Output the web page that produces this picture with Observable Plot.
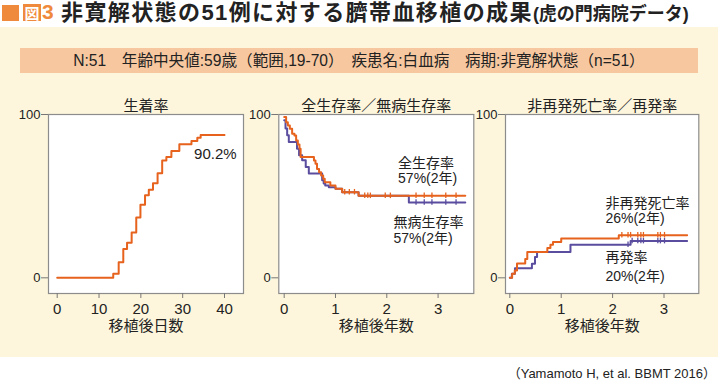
<!DOCTYPE html>
<html><head><meta charset="utf-8">
<script src="https://cdn.jsdelivr.net/npm/d3@7"></script>
<script src="https://cdn.jsdelivr.net/npm/@observablehq/plot@0.6"></script>
<style>
body{margin:0;background:#fff}
#root{position:relative;width:718px;height:384px;overflow:hidden;background:#fff;font-family:'Liberation Sans','Noto Sans CJK JP',sans-serif;color:#222}
.abs{position:absolute}
</style></head>
<body><div id="root">
<div class="abs" style="left:0;top:27px;width:718px;height:330px;background:#fdf6dc"></div>
<div class="abs" style="left:2px;top:5px;width:17px;height:16px;background:#ef8a3c"></div>
<div class="abs" style="left:23px;top:4px;width:18px;height:17px;background:#ef8a3c;color:#fff;font:bold 15px 'Noto Sans CJK JP';line-height:17px;text-align:center">図</div>
<div class="abs" style="left:42px;top:0;height:25px;line-height:25px;color:#ef8a3c;font:bold 21px 'Liberation Sans',sans-serif">3</div>
<div class="abs" style="left:61px;top:0;height:25px;line-height:25px;white-space:nowrap;font-weight:bold;font-size:22px;color:#222"><span id="t1" style="letter-spacing:1.4px">非寛解状態の51例に対する臍帯血移植の成果</span><span id="t2" style="font-size:18px;font-weight:bold">(虎の門病院データ)</span></div>
<div class="abs" id="info" style="left:20px;top:48px;width:678px;height:25px;line-height:25px;background:#f7c8a0;text-align:center;font-size:15.6px;white-space:nowrap">N:51　年齢中央値:59歳（範囲,19-70）　疾患名:白血病　病期:非寛解状態（n=51）</div>
<div id="p1" class="abs" style="left:0;top:88px"></div>
<div id="p2" class="abs" style="left:250px;top:88px"></div>
<div id="p3" class="abs" style="left:470px;top:88px"></div>
<div class="abs" style="right:2px;top:363px;font-size:13px;white-space:nowrap">（Yamamoto H, et al. BBMT 2016）</div>
</div>
<script>
// ---- data ----
const panelTitles = ["生着率", "全生存率／無病生存率", "非再発死亡率／再発率"];
const xLabels = ["移植後日数", "移植後年数", "移植後年数"];
const yTicks = [0, 100];
const xTicksDays = [0, 10, 20, 30, 40];
const xTicksYears = [0, 1, 2, 3];

// Panel 1: engraftment (days, %)
const engraftDays = [0, 13.4, 14.7, 15.8, 16.7, 17.8, 18.9, 19.9, 21.0, 21.9, 22.9, 24.0, 25.1, 26.1, 27.3, 29.2, 32.1, 33.5, 34.3, 40];
const engraftPct  = [0, 2.5, 9.6, 17.6, 21.5, 27.8, 37.0, 44.8, 50.5, 54.0, 57.9, 64.0, 71.8, 74.0, 77.7, 81.8, 83.8, 85.7, 87.5, 87.5];
const engraftLabel = ["90.2%"];

// Panel 2: overall survival / disease-free survival (years, %)
const osYears = [0, 0.038, 0.071, 0.11, 0.155, 0.2, 0.233, 0.266, 0.298, 0.32, 0.58, 0.61, 0.64, 0.68, 0.72, 0.76, 0.79, 0.9, 1.0, 1.13, 1.45, 3.53];
const osPct   = [98.4, 95.3, 93.3, 91.2, 88.2, 87.1, 84.1, 81.6, 79.0, 74.0, 71.8, 69.8, 66.7, 64.7, 62.6, 60.6, 58.5, 56.5, 54.5, 52.4, 50.2, 50.2];
const osCensor = [1.18, 1.27, 1.37, 1.57, 1.63, 1.68, 1.97, 2.07, 2.57, 2.73, 2.88, 3.15, 3.35];
const dfsYears = [0, 0.026, 0.058, 0.09, 0.25, 0.29, 0.35, 0.42, 0.48, 0.74, 0.77, 0.8, 0.87, 1.0, 1.13, 1.45, 2.43, 3.53];
const dfsPct   = [96.5, 91.4, 87.3, 83.2, 79.0, 75.1, 72.0, 67.9, 63.8, 59.7, 57.7, 56.6, 55.5, 54.5, 52.4, 50.2, 46.1, 46.1];
const dfsCensor = [2.57, 2.73, 2.88, 3.15, 3.35];
const osLabels = ["全生存率", "57%(2年)"];
const dfsLabels = ["無病生存率", "57%(2年)"];

// Panel 3: non-relapse mortality / relapse (years, %)
const nrmYears = [0, 0.045, 0.097, 0.14, 0.30, 0.34, 0.73, 0.79, 0.84, 1.0, 2.12, 3.45];
const nrmPct   = [0, 2.5, 4.5, 8.8, 11.5, 15.8, 18.3, 20.3, 22.0, 24.0, 26.1, 26.1];
const nrmCensor = [2.18, 2.30, 2.35, 2.49, 2.55, 2.60, 2.88, 2.93, 3.01];
const relYears = [0, 0.04, 0.1, 0.43, 0.49, 0.53, 1.18, 2.35, 3.45];
const relPct   = [0, 2.5, 5.9, 8.6, 12.7, 15.8, 20.2, 22.5, 22.5];
const relCensor = [2.30, 2.38, 2.49, 2.55, 2.60, 2.88, 2.93, 3.01];
const nrmLabels = ["非再発死亡率", "26%(2年)"];
const relLabels = ["再発率", "20%(2年)"];

// ---- helpers ----
const ORANGE = "#e6621d", PURPLE = "#5a4c9e", INK = "#222";
const pts = (xs, ys) => xs.map((x, i) => ({x, y: ys[i]}));
function stepAt(xs, ys, t) { let v = ys[0]; for (let i = 0; i < xs.length; i++) if (xs[i] <= t) v = ys[i]; return v; }
const cens = (xs, ys, cs) => cs.map(c => ({x: c, y: stepAt(xs, ys, c)}));

function panel({id, width, marginLeft, marginRight, xDomain, xTicks, title, xLabel, marks}) {
  const chart = Plot.plot({
    width, height: 262, marginTop: 26, marginBottom: 57, marginLeft, marginRight,
    style: {fontFamily: "'Liberation Sans','Noto Sans CJK JP',sans-serif", fontSize: "15px", background: "transparent", overflow: "visible", color: INK},
    x: {domain: xDomain},
    y: {domain: [-9.6, 100]},
    marks: [
      Plot.frame({fill: "white", stroke: "#8c8c8c", strokeWidth: 1.2}),
      Plot.axisY({ticks: yTicks, tickSize: 7, tickPadding: 1, fontSize: 13, label: null, stroke: "#777", fill: INK, tickFormat: d => String(d)}),
      Plot.axisX({ticks: xTicks, tickSize: 5, tickPadding: 5, fontSize: 15, label: null, stroke: "#777", fill: INK, tickFormat: d => String(d)}),
      ...marks,
      Plot.text([title], {frameAnchor: "top", dy: -14, fontSize: 15, fill: INK}),
      Plot.text([xLabel], {frameAnchor: "bottom", dy: 37, fontSize: 15, fill: INK})
    ]
  });
  document.getElementById(id).appendChild(chart);
}
const line = (xs, ys, color) => Plot.line(pts(xs, ys), {x: "x", y: "y", curve: "step-after", stroke: color, strokeWidth: 2});
const censor = (xs, ys, cs, color) => Plot.ruleX(cens(xs, ys, cs), {x: "x", y1: d => d.y - 1.7, y2: d => d.y + 1.7, stroke: color, strokeWidth: 1.3});
const labels = (texts, x, y1, y2) => Plot.text([{x, y: y1, t: texts[0]}, {x, y: y2, t: texts[1]}], {x: "x", y: "y", text: "t", textAnchor: "start", fontSize: 14, fill: INK});

panel({
  id: "p1", width: 250, marginLeft: 48, marginRight: 7,
  xDomain: [-2.08, 44.54], xTicks: xTicksDays, title: panelTitles[0], xLabel: xLabels[0],
  marks: [
    line(engraftDays, engraftPct, ORANGE),
    Plot.text(engraftLabel, {x: 42.9, y: 75.6, textAnchor: "end", fontSize: 15, fill: INK})
  ]
});
panel({
  id: "p2", width: 230, marginLeft: 28.3, marginRight: 6.7,
  xDomain: [-0.105, 3.696], xTicks: xTicksYears, title: panelTitles[1], xLabel: xLabels[1],
  marks: [
    line(dfsYears, dfsPct, PURPLE),
    censor(dfsYears, dfsPct, dfsCensor, PURPLE),
    line(osYears, osPct, ORANGE),
    censor(osYears, osPct, osCensor, ORANGE),
    labels(osLabels, 2.22, 70.2, 60.7),
    labels(dfsLabels, 2.13, 34.1, 24.3)
  ]
});
panel({
  id: "p3", width: 248, marginLeft: 35, marginRight: 19.7,
  xDomain: [-0.084, 3.677], xTicks: xTicksYears, title: panelTitles[2], xLabel: xLabels[2],
  marks: [
    line(relYears, relPct, PURPLE),
    censor(relYears, relPct, relCensor, PURPLE),
    line(nrmYears, nrmPct, ORANGE),
    censor(nrmYears, nrmPct, nrmCensor, ORANGE),
    labels(nrmLabels, 1.86, 45.4, 36.2),
    labels(relLabels, 1.86, 12.6, 0.8)
  ]
});
</script>
</body></html>
